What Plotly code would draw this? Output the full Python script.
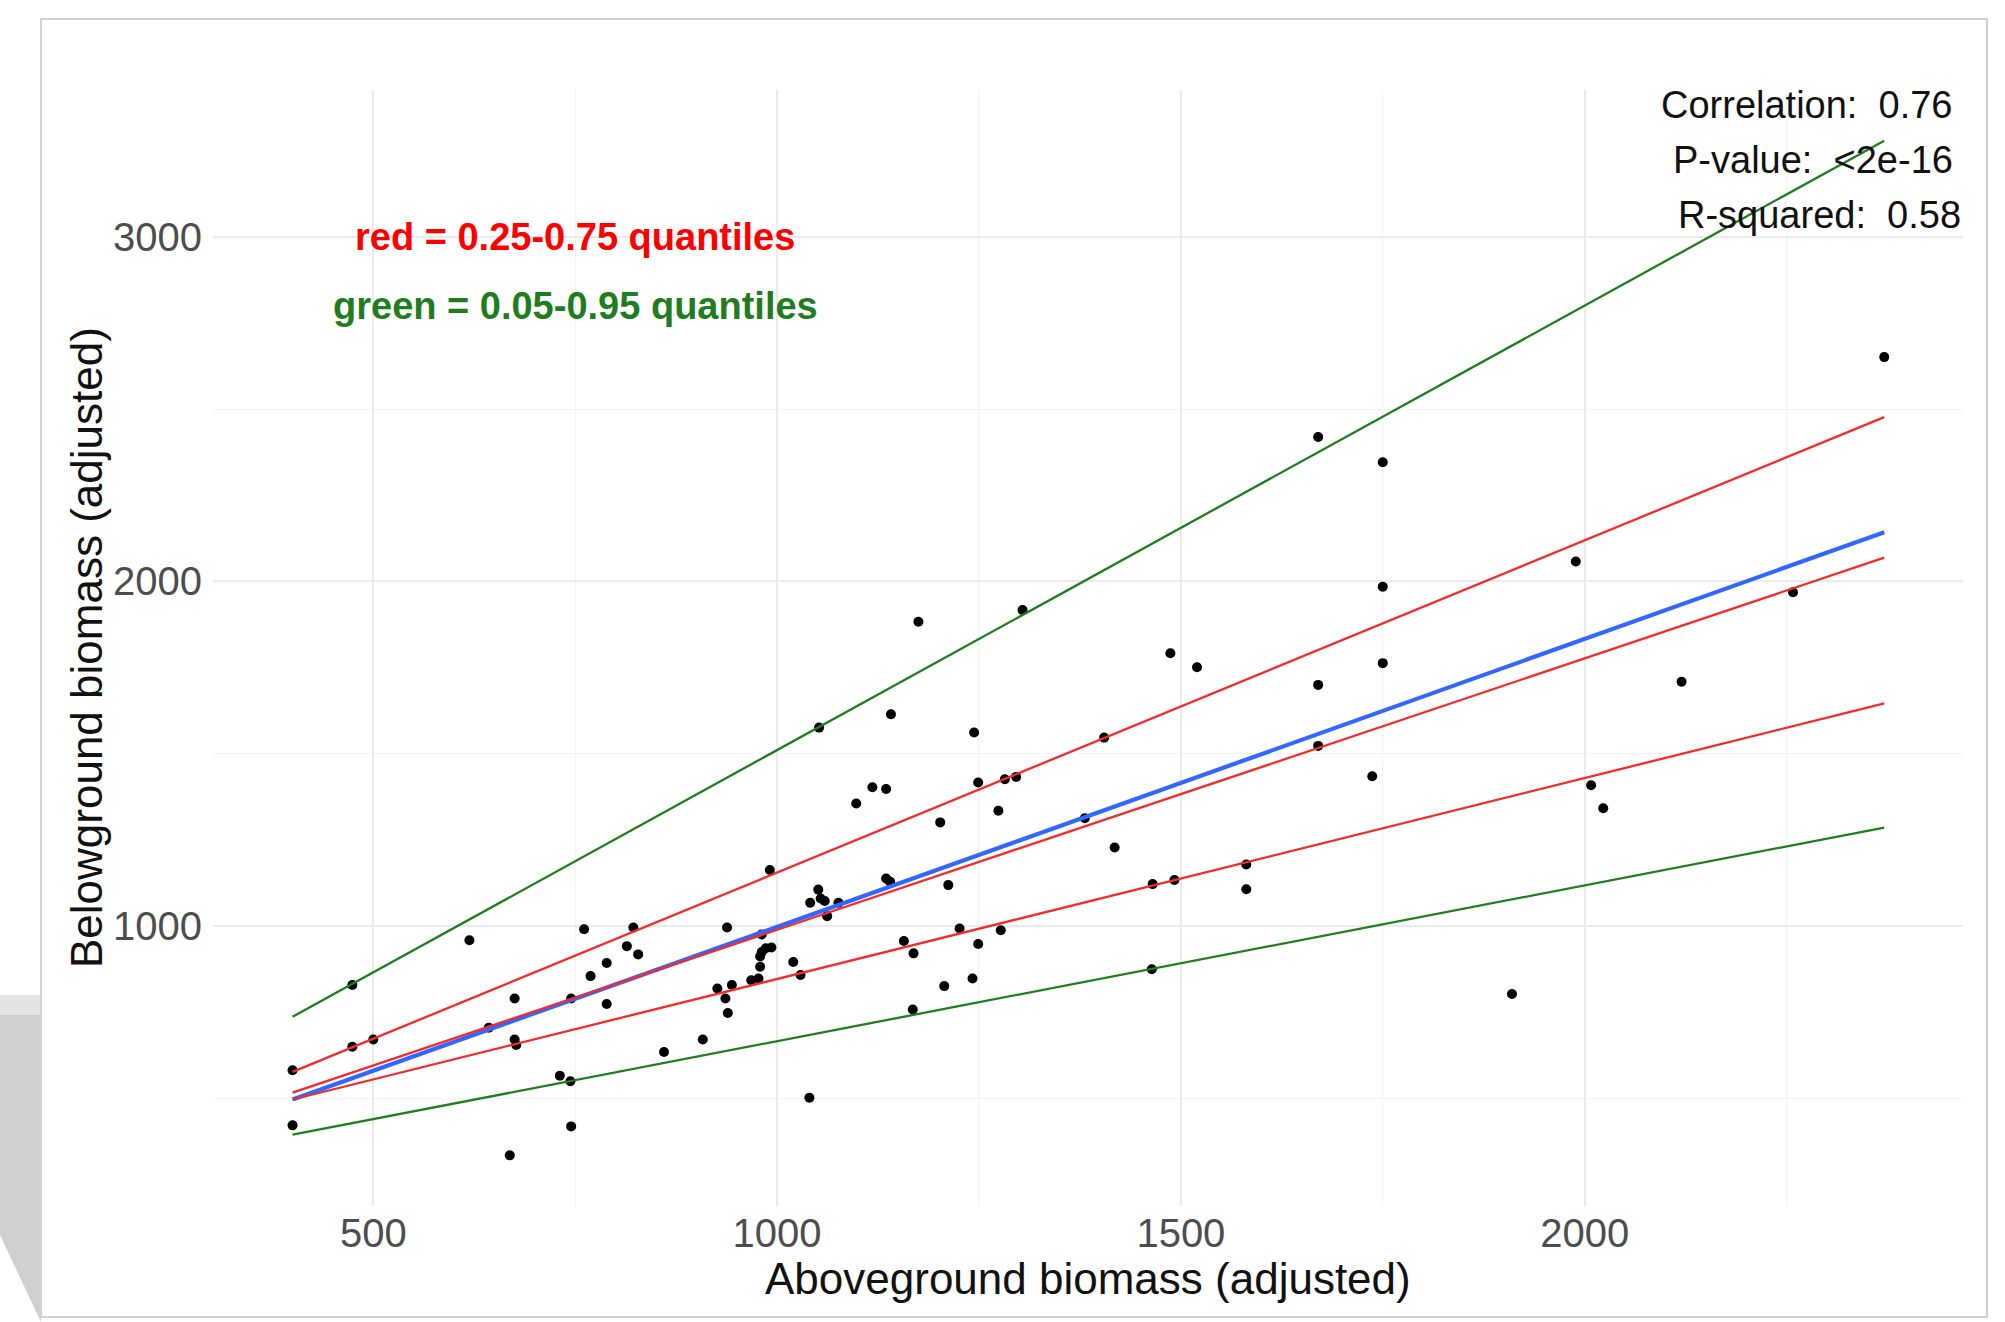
import plotly.graph_objects as go

# ---------------- data ----------------
above = [400, 400, 474, 474, 500, 619, 643, 669, 675, 675, 677, 731, 744, 745, 745,
         761, 769, 789, 789, 814, 822, 828, 860,
         908, 926, 936, 939, 944, 938, 968, 977, 979, 979, 981, 986, 993, 981, 991,
         1020, 1029, 1040, 1041, 1051, 1054, 1059, 1062, 1076, 1098, 1118, 1135,
         1135, 1140, 1157, 1169, 1168, 1202, 1212, 1226, 1207, 1242, 1249, 1249,
         1274, 1277, 1282, 1296,
         1381, 1418, 1465, 1492, 1581, 1581, 1464, 1737,
         2008, 2023, 1910,
         1052, 1175, 1141, 1244, 1304, 1405, 1487,
         1670, 1750, 1989, 1750, 1520, 1670, 1750, 1670,
         2371, 2258, 2120]
below = [582, 422, 829, 650, 671, 959, 705, 335, 790, 671, 655, 566, 550, 790, 419,
         991, 855, 893, 774, 942, 996, 918, 635,
         671, 819, 790, 748, 829, 996, 843, 848, 882, 912, 925, 936, 938, 976, 1163,
         896, 858, 502, 1068, 1106, 1080, 1073, 1029, 1068, 1356, 1403, 1398,
         1138, 1129, 957, 921, 758, 1301, 1119, 993, 826, 848, 948, 1417,
         1335, 988, 1426, 1433,
         1313, 1228, 1122, 1134, 1179, 1107, 875, 1435,
         1409, 1342, 803,
         1576, 1883, 1615, 1562, 1917, 1547, 1792,
         2419, 2346, 2058, 1985, 1751, 1700, 1763, 1523,
         2651, 1969, 1709]

# fitted lines: y values at the two ends of the x range
line_x = [min(above), max(above)]
ols_y = [497, 2143]
q05_y = [395, 1286]
q25_y = [497, 1646]
q50_y = [517, 2069]
q75_y = [577, 2477]
q95_y = [737, 3279]

x_ticks = [500, 1000, 1500, 2000]
y_ticks = [1000, 2000, 3000]

stats_lines = ["Correlation:\u00a0 0.76", "P-value:\u00a0 <2e-16", "R-squared:\u00a0 0.58"]
legend_red = "red = 0.25-0.75 quantiles"
legend_green = "green = 0.05-0.95 quantiles"

# ---------------- figure ----------------
W, H = 2005, 1322
ML, MR, MT, MB = 213, 42, 90, 116
PW, PH = W - ML - MR, H - MT - MB

def px(x):
    return (x - ML) / PW

def py(y):
    return (H - MB - y) / PH

RED = "#f52a2a"
GREEN = "#1f7d1f"
BLUE = "#3366ff"
FONT = "Liberation Sans, Arial, sans-serif"

fig = go.Figure()

fig.add_trace(go.Scatter(x=above, y=below, mode="markers",
                         marker=dict(color="black", size=10),
                         showlegend=False, hoverinfo="skip"))

fig.add_trace(go.Scatter(x=line_x, y=ols_y, mode="lines",
                         line=dict(color=BLUE, width=4.2), showlegend=False))
for yy in (q25_y, q50_y, q75_y):
    fig.add_trace(go.Scatter(x=line_x, y=yy, mode="lines",
                             line=dict(color=RED, width=2.3), showlegend=False))
for yy in (q05_y, q95_y):
    fig.add_trace(go.Scatter(x=line_x, y=yy, mode="lines",
                             line=dict(color=GREEN, width=2.3), showlegend=False))

# quantile legend text
fig.add_annotation(x=750, y=3000, text=legend_red, showarrow=False,
                   font=dict(family=FONT, size=38, color="#ff0000", weight="bold"),
                   xanchor="center", yanchor="middle")
fig.add_annotation(x=750, y=2800, text=legend_green, showarrow=False,
                   font=dict(family=FONT, size=38, color=GREEN, weight="bold"),
                   xanchor="center", yanchor="middle")

# stats text (right aligned, top right)
stat_x = [px(1955), px(1955), px(1963)]
stat_y = [py(105), py(160), py(215)]
for t, sx, sy in zip(stats_lines, stat_x, stat_y):
    fig.add_annotation(x=sx, y=sy, xref="paper", yref="paper", text=t,
                       showarrow=False, xanchor="right", yanchor="middle",
                       font=dict(family=FONT, size=38, color="#111111"))

# axis titles
fig.add_annotation(x=0.5, y=py(1278), xref="paper", yref="paper",
                   text="Aboveground biomass (adjusted)", showarrow=False,
                   xanchor="center", yanchor="middle",
                   font=dict(family=FONT, size=44, color="#111111"))
fig.add_annotation(x=px(86), y=0.5, xref="paper", yref="paper",
                   text="Belowground biomass (adjusted)", showarrow=False,
                   textangle=-90, xanchor="center", yanchor="middle",
                   font=dict(family=FONT, size=44, color="#111111"))

# outer frame and shadow of the screenshot
fig.add_shape(type="path", xref="paper", yref="paper",
              path=f"M {px(0)} {py(1015)} L {px(41)} {py(1015)} L {px(41)} {py(1322)} "
                   f"L {px(0)} {py(1235)} Z",
              fillcolor="#cfcfcf", line=dict(width=0), layer="below")
fig.add_shape(type="path", xref="paper", yref="paper",
              path=f"M {px(0)} {py(995)} L {px(41)} {py(995)} L {px(41)} {py(1015)} "
                   f"L {px(0)} {py(1015)} Z",
              fillcolor="#e4e4e4", line=dict(width=0), layer="below")
fig.add_shape(type="rect", xref="paper", yref="paper",
              x0=px(41), x1=px(1987), y0=py(1317), y1=py(19),
              line=dict(color="#d2d2d2", width=2), fillcolor="rgba(0,0,0,0)",
              layer="below")

axis_common = dict(
    showline=False, zeroline=False, ticks="",
    gridcolor="#ebebeb", gridwidth=2,
    tickfont=dict(family=FONT, size=40, color="#4d4d4d"),
)

fig.update_xaxes(range=[301.5, 2468.5], tickvals=x_ticks,
                 ticktext=[str(v) for v in x_ticks],
                 minor=dict(tickvals=[750, 1250, 1750, 2250], gridcolor="#f3f3f3",
                            gridwidth=1, showgrid=True),
                 ticklabelstandoff=0,
                 **axis_common)
fig.update_yaxes(range=[188, 3426], tickvals=y_ticks,
                 ticktext=[str(v) for v in y_ticks],
                 minor=dict(tickvals=[500, 1500, 2500], gridcolor="#f3f3f3",
                            gridwidth=1, showgrid=True),
                 ticklabelstandoff=10,
                 **axis_common)

fig.update_layout(width=W, height=H,
                  margin=dict(l=ML, r=MR, t=MT, b=MB, autoexpand=False),
                  paper_bgcolor="white", plot_bgcolor="white",
                  font=dict(family=FONT))

fig.write_html("out.html",
               config={"displayModeBar": False},
               post_script="document.body.style.margin='0px';"
                           "document.body.style.overflow='hidden';")
